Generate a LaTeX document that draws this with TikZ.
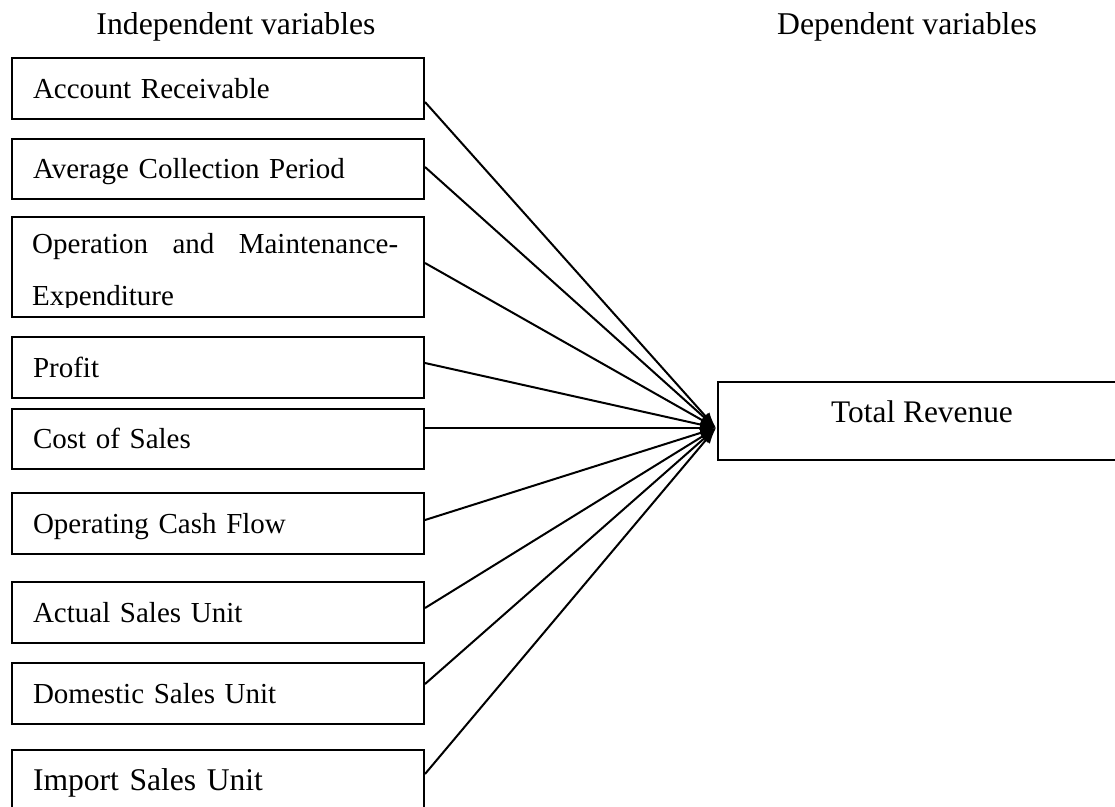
\documentclass[tikz,border=0pt]{standalone}
\usepackage{fontspec}
\setmainfont{Liberation Serif}
\usetikzlibrary{arrows.meta}
\begin{document}
\begin{tikzpicture}[x=1pt,y=-1pt,
  box/.style={draw, line width=2pt, rectangle, inner xsep=21pt, inner ysep=0pt,
    text width=370pt, align=left, anchor=north west,
    text height=19.2pt, text depth=0pt, font=\fontsize{29}{34}\selectfont},
  bigbox/.style={box, text height=20.9pt, font=\fontsize{31.6}{38}\selectfont},
  lbl/.style={inner sep=0pt, anchor=base west, font=\fontsize{29}{34}\selectfont},
  head/.style={inner sep=0pt, anchor=base, font=\fontsize{31.7}{38}\selectfont},
  arr/.style={line width=2pt, -{Latex[length=16pt,width=11pt]}}
]
\useasboundingbox (0,0) rectangle (1115,806);
\clip (0,0) rectangle (1115,806);

\node[head] (h1) at (236,34) {Independent variables};
\node[head] (h2) at (907,34) {Dependent variables};

\node[box, minimum height=61pt] (b1) at (11,57) {Account Receivable};
\node[box, minimum height=60pt] (b2) at (11,138) {Average Collection Period};
\node[draw, line width=2pt, rectangle, inner sep=0pt, anchor=north west,
      minimum width=412pt, minimum height=100pt] (b3) at (11,216) {};
\begin{scope}
  \clip (11,216) rectangle (423,307);
  \node[lbl] (t3a) at (32,253) {\makebox[366pt][s]{Operation and Maintenance-}};
  \node[lbl] (t3b) at (32,305) {Expenditure};
\end{scope}
\node[box, minimum height=61pt] (b4) at (11,336) {Profit};
\node[box, minimum height=60pt] (b5) at (11,408) {Cost of Sales};
\node[box, minimum height=61pt] (b6) at (11,492) {Operating Cash Flow};
\node[box, minimum height=61pt] (b7) at (11,581) {Actual Sales Unit};
\node[box, minimum height=61pt] (b8) at (11,662) {Domestic Sales Unit};
\node[bigbox, minimum height=61pt] (b9) at (11,749) {Import Sales Unit};

\node[draw, line width=2pt, rectangle, inner sep=0pt, anchor=north west,
      minimum width=408pt, minimum height=78pt] (tr) at (717,381) {};
\node[inner sep=0pt, anchor=base, font=\fontsize{31.4}{38}\selectfont] (trt)
      at ([yshift=-1pt]tr.center) {Total Revenue};

\coordinate (tip) at ([xshift=-1pt,yshift=-7pt]tr.west);

\draw[arr] ([yshift=-45pt]b1.north east) -- (tip);
\draw[arr] ([yshift=-29pt]b2.north east) -- (tip);
\draw[arr] ([yshift=-47pt]b3.north east) -- (tip);
\draw[arr] ([yshift=-27pt]b4.north east) -- (tip);
\draw[arr] ([yshift=-20pt]b5.north east) -- (tip);
\draw[arr] ([yshift=-28pt]b6.north east) -- (tip);
\draw[arr] ([yshift=-27pt]b7.north east) -- (tip);
\draw[arr] ([yshift=-22pt]b8.north east) -- (tip);
\draw[arr] ([yshift=-25pt]b9.north east) -- (tip);
\end{tikzpicture}
\end{document}
